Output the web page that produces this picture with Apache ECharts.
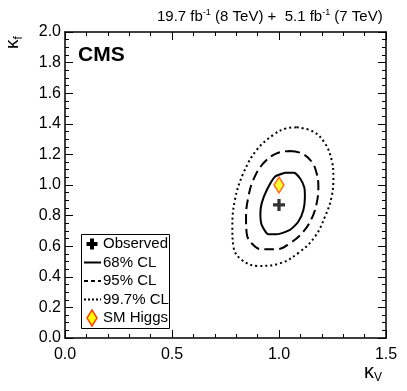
<!DOCTYPE html>
<html><head><meta charset="utf-8">
<script src="https://cdn.jsdelivr.net/npm/echarts@6/dist/echarts.min.js"></script>
<style>html,body{margin:0;padding:0;background:#fff}#c{width:407px;height:391px}</style>
</head><body><div id="c"></div>
<script>
// ---- data ----
const observed = [[1.0, 0.87]];
const smHiggs = [[1.0, 1.0]];
const cl68 = [[1.028,1.080],[1.070,1.080],[1.098,1.044],[1.118,0.985],[1.121,0.924],[1.114,0.837],[1.090,0.760],[1.051,0.706],[0.989,0.678],[0.950,0.678],[0.919,0.739],[0.913,0.815],[0.919,0.880],[0.943,0.967],[0.981,1.054],[1.028,1.080]];
const cl95 = [[1.051,1.222],[1.106,1.207],[1.153,1.152],[1.176,1.076],[1.184,0.989],[1.176,0.880],[1.153,0.782],[1.114,0.695],[1.051,0.619],[0.989,0.580],[0.919,0.580],[0.872,0.619],[0.849,0.684],[0.846,0.793],[0.857,0.924],[0.880,1.033],[0.927,1.142],[0.989,1.207],[1.051,1.222]];
const cl997 = [[1.083,1.377],[1.160,1.349],[1.215,1.272],[1.246,1.163],[1.254,1.054],[1.246,0.924],[1.215,0.793],[1.168,0.662],[1.098,0.564],[1.005,0.488],[0.903,0.471],[0.826,0.510],[0.787,0.597],[0.782,0.728],[0.794,0.902],[0.833,1.076],[0.896,1.229],[0.973,1.327],[1.036,1.371],[1.083,1.377]];
const legendLabels = ['Observed','68% CL','95% CL','99.7% CL','SM Higgs'];

const FONT = 'Liberation Sans, Arial, Helvetica, sans-serif';
const crossPath = 'path://M4,0H7V4H11V7H7V11H4V7H0V4H4Z';
const chart = echarts.init(document.getElementById('c'), null, {renderer:'canvas'});

function axLine(){return {show:true,onZero:false,lineStyle:{color:'#000',width:1.5}};}
function axTick(){return {show:true,inside:true,length:8,lineStyle:{color:'#000',width:1}};}
function xAx(pos,showLabel){return {type:'value',position:pos,min:0,max:1.5,interval:0.5,
  axisLine:axLine(),axisTick:axTick(),splitLine:{show:false},
  minorTick:{show:true,splitNumber:5,length:4,lineStyle:{color:'#000',width:1}},
  axisLabel:{show:showLabel,fontFamily:FONT,fontSize:16,color:'#000',margin:9,formatter:v=>v.toFixed(1)}};}
function yAx(pos,showLabel){return {type:'value',position:pos,min:0,max:2,interval:0.2,
  axisLine:axLine(),axisTick:axTick(),splitLine:{show:false},
  minorTick:{show:true,splitNumber:4,length:4,lineStyle:{color:'#000',width:1}},
  axisLabel:{show:showLabel,fontFamily:FONT,fontSize:16,color:'#000',margin:4,formatter:v=>v.toFixed(1)}};}

const lx = 84, ly0 = 244, ldy = 18.5;
const cx = 92, cy = ly0, a = 5.5, t = 2;
const legendGraphics = [
  {type:'rect',shape:{x:81.5,y:234.5,width:88,height:94},style:{fill:'#fff',stroke:'#000',lineWidth:1}},
  {type:'polygon',shape:{points:[[cx-t,cy-a],[cx+t,cy-a],[cx+t,cy-t],[cx+a,cy-t],[cx+a,cy+t],[cx+t,cy+t],[cx+t,cy+a],[cx-t,cy+a],[cx-t,cy+t],[cx-a,cy+t],[cx-a,cy-t],[cx-t,cy-t]]},style:{fill:'#000'}},
  {type:'line',shape:{x1:lx,y1:ly0+ldy,x2:lx+17,y2:ly0+ldy},style:{stroke:'#000',lineWidth:2}},
  {type:'line',shape:{x1:lx,y1:ly0+2*ldy,x2:lx+17,y2:ly0+2*ldy},style:{stroke:'#000',lineWidth:2,lineDash:[4,3]}},
  {type:'line',shape:{x1:lx,y1:ly0+3*ldy,x2:lx+17,y2:ly0+3*ldy},style:{stroke:'#000',lineWidth:2,lineDash:[2,2]}},
  {type:'polygon',shape:{points:[[92,ly0+4*ldy-8],[97,ly0+4*ldy],[92,ly0+4*ldy+8],[87,ly0+4*ldy]]},style:{fill:'#ffff00',stroke:'#ff4500',lineWidth:1.5}}
];
legendLabels.forEach((s,i)=>legendGraphics.push({type:'text',x:103,y:ly0+i*ldy,style:{text:s,font:'15px '+FONT,fill:'#000',textVerticalAlign:'middle'}}));

chart.setOption({
  animation:false,
  grid:{left:65,right:21,top:32,bottom:53},
  xAxis:[xAx('bottom',true),xAx('top',false)],
  yAxis:[yAx('left',true),yAx('right',false)],
  graphic:[
    {type:'text',x:78,y:45,style:{text:'CMS',font:'bold 21px '+FONT,fill:'#000'}},
    {type:'text',x:157,y:8,style:{rich:{n:{fontSize:15,fontFamily:FONT,fill:'#000'},s:{fontSize:9,fontFamily:FONT,fill:'#000',padding:[0,0,9,0]}},
      text:'{n|19.7 fb}{s|-1}{n| (8 TeV) +  5.1 fb}{s|-1}{n| (7 TeV)}'}},
    {type:'text',x:1,y:49,rotation:Math.PI/2,style:{rich:{k:{fontSize:19,fontFamily:FONT,fill:'#000'},s:{fontSize:12,fontFamily:FONT,fill:'#000',padding:[12,0,0,0]}},text:'{k|κ}{s|f}'}},
    {type:'text',x:364,y:360,style:{rich:{k:{fontSize:20,fontFamily:FONT,fill:'#000'},s:{fontSize:12,fontFamily:FONT,fill:'#000',padding:[12,0,0,0]}},text:'{k|κ}{s|V}'}}
  ].concat(legendGraphics),
  series:[
    {type:'line',data:cl997,smooth:0.4,symbol:'none',lineStyle:{color:'#000',width:2,type:[2,3]}},
    {type:'line',data:cl95,smooth:0.4,symbol:'none',lineStyle:{color:'#000',width:2,type:[10,5]}},
    {type:'line',data:cl68,smooth:0.2,symbol:'none',lineStyle:{color:'#000',width:2}},
    {type:'scatter',data:observed,symbol:crossPath,symbolSize:12,itemStyle:{color:'#000'}},
    {type:'scatter',data:smHiggs,symbol:'diamond',symbolSize:[10,16],itemStyle:{color:'#ffff00',borderColor:'#ff4500',borderWidth:1.5}}
  ]
});
</script></body></html>
